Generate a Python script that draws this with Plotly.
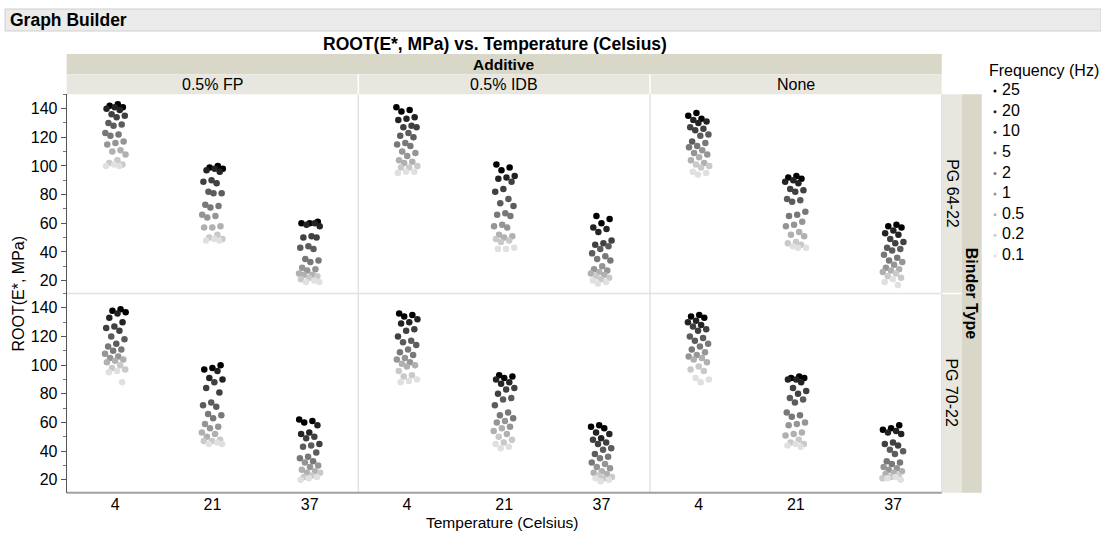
import plotly.graph_objects as go

W, H = 1101, 533
FONT = "Liberation Sans, Arial, sans-serif"

temps = ['4', '21', '37']
additives = ['0.5% FP', '0.5% IDB', 'None']
binders = ['PG 64-22', 'PG 70-22']
freq_labels = ['25', '20', '10', '5', '2', '1', '0.5', '0.2', '0.1']
freq_colors = ['#000000', '#232323', '#404040', '#5c5c5c', '#787878',
               '#959595', '#b0b0b0', '#c9c9c9', '#e0e0e0']

# values ordered by frequency (25 Hz ... 0.1 Hz), 3 replicates each
fp_6422_t4 = [143, 142, 141, 141, 140, 139, 136, 135, 134, 130, 129, 128, 123, 122, 121,
              117, 116, 115, 111, 110, 108, 104, 102, 101, 101, 100, 100]
fp_6422_t21 = [100, 99, 98, 98, 97, 96, 90, 89, 88, 82, 81, 81, 73, 72, 71,
               66, 65, 64, 58, 57, 57, 52, 50, 49, 49, 48, 48]
fp_6422_t37 = [61, 60, 60, 60, 59, 58, 51, 50, 50, 44, 43, 42, 35, 34, 33,
               29, 28, 27, 25, 24, 24, 23, 22, 21, 20, 19, 19]

idb_6422_t4 = [141, 139, 138, 134, 133, 132, 128, 127, 127, 123, 121, 120, 116, 115, 114,
               110, 109, 107, 104, 103, 102, 100, 99, 99, 96, 96, 95]
idb_6422_t21 = [101, 99, 97, 93, 92, 91, 89, 84, 82, 77, 74, 72, 67, 66, 65,
                59, 58, 57, 52, 51, 50, 49, 48, 47, 43, 42, 42]
idb_6422_t37 = [65, 63, 60, 57, 56, 54, 48, 46, 45, 44, 42, 39, 37, 35, 34,
                30, 28, 27, 26, 25, 24, 23, 22, 21, 20, 19, 18]

none_6422_t4 = [137, 135, 133, 132, 131, 130, 127, 126, 125, 122, 121, 117, 116, 114, 113,
                111, 109, 108, 106, 104, 102, 101, 100, 99, 96, 95, 94]
none_6422_t21 = [93, 92, 91, 90, 89, 88, 84, 83, 82, 77, 76, 75, 68, 66, 65,
                 61, 59, 58, 54, 52, 51, 47, 46, 45, 44, 43, 43]
none_6422_t37 = [59, 58, 57, 55, 53, 52, 49, 47, 46, 43, 42, 41, 38, 36, 34,
                 33, 31, 29, 28, 27, 26, 25, 23, 22, 21, 19, 17]

fp_7022_t4 = [139, 138, 137, 136, 133, 130, 127, 126, 124, 120, 118, 115, 113, 111, 110,
              108, 106, 105, 104, 103, 102, 100, 98, 97, 96, 95, 88]
fp_7022_t21 = [100, 98, 97, 96, 91, 90, 88, 84, 81, 74, 72, 71, 66, 65, 63,
               59, 57, 56, 53, 52, 50, 48, 47, 47, 46, 45, 45]
fp_7022_t37 = [62, 61, 60, 58, 53, 52, 50, 49, 45, 44, 43, 39, 36, 35, 33,
               32, 30, 29, 27, 26, 25, 25, 23, 22, 22, 21, 20]

idb_7022_t4 = [136, 135, 134, 132, 130, 129, 125, 124, 120, 117, 116, 114, 111, 109, 107,
               105, 104, 102, 101, 100, 99, 96, 93, 92, 90, 89, 88]
idb_7022_t21 = [93, 92, 91, 90, 88, 87, 84, 83, 80, 77, 76, 72, 67, 65, 63,
                61, 60, 57, 56, 54, 52, 50, 48, 46, 45, 43, 42]
idb_7022_t37 = [58, 57, 56, 53, 52, 49, 48, 46, 45, 42, 41, 38, 36, 35, 32,
                31, 29, 28, 26, 25, 24, 23, 22, 21, 21, 20, 19]

none_7022_t4 = [135, 134, 133, 131, 130, 128, 127, 125, 124, 120, 119, 117, 115, 113, 111,
                109, 107, 106, 105, 104, 102, 99, 97, 96, 91, 90, 88]
none_7022_t21 = [92, 91, 91, 90, 90, 88, 84, 82, 80, 77, 76, 74, 67, 65, 64,
                 60, 59, 58, 53, 52, 51, 48, 46, 45, 45, 44, 43]
none_7022_t37 = [58, 56, 55, 54, 53, 52, 46, 45, 44, 41, 40, 38, 33, 32, 31,
                 29, 28, 27, 26, 25, 24, 23, 22, 21, 22, 21, 20]

panels = [
    [[fp_6422_t4, fp_6422_t21, fp_6422_t37],
     [idb_6422_t4, idb_6422_t21, idb_6422_t37],
     [none_6422_t4, none_6422_t21, none_6422_t37]],
    [[fp_7022_t4, fp_7022_t21, fp_7022_t37],
     [idb_7022_t4, idb_7022_t21, idb_7022_t37],
     [none_7022_t4, none_7022_t21, none_7022_t37]],
]


def fx(p):
    return p / W


def fy(p):
    return 1 - p / H


XE = [66.7, 358.3, 650.0, 941.7]
YE = [94.3, 293.5, 492.7]
REPS = 3
JITTER = 0.22   # total jitter width, in category units
GOLD = 0.6180339887

fig = go.Figure()
layout = dict(
    width=W, height=H, margin=dict(l=0, r=0, t=0, b=0),
    paper_bgcolor='white', plot_bgcolor='white', showlegend=False,
    font=dict(family=FONT, size=16, color='#000'),
)

for r in range(2):
    for c in range(3):
        k = r * 3 + c + 1
        sfx = '' if k == 1 else str(k)
        xs, ys, cols, hov = [], [], [], []
        for ti, t in enumerate(temps):
            vals = panels[r][c][ti]
            for j, v in enumerate(vals):
                fi = j // REPS
                off = (((j + 1) * GOLD + 0.13 * (ti + 3 * c + r)) % 1.0 - 0.5) * JITTER
                xs.append(ti + off)
                ys.append(v)
                cols.append(freq_colors[fi])
                hov.append('%s Hz' % freq_labels[fi])
        fig.add_trace(go.Scatter(
            x=xs, y=ys, xaxis='x' + sfx, yaxis='y' + sfx, mode='markers',
            marker=dict(size=6.5, color=cols, line=dict(width=0)),
            text=hov, showlegend=False,
        ))
        layout['xaxis' + sfx] = dict(
            domain=[fx(XE[c]), fx(XE[c + 1])], anchor='y' + sfx,
            range=[-0.5, 2.5], tickmode='array', tickvals=list(range(len(temps))),
            ticktext=temps, showticklabels=(r == 1), ticks='',
            showline=False, showgrid=False, zeroline=False,
            tickfont=dict(size=16, color='#000'),
        )
        layout['yaxis' + sfx] = dict(
            domain=[fy(YE[r + 1]), fy(YE[r])], anchor='x' + sfx,
            range=[11, 150], tick0=0, dtick=20, showticklabels=(c == 0),
            ticks='outside' if c == 0 else '', ticklen=5, tickcolor='#555',
            minor=dict(dtick=10, ticks='outside' if c == 0 else '', ticklen=3, tickcolor='#777'),
            showline=(c == 0), linecolor='#555', linewidth=1,
            showgrid=False, zeroline=False, tickfont=dict(size=16, color='#000'),
        )

# legend drawn on its own small axis (x units are pixels)
fig.add_trace(go.Scatter(
    x=[0] * len(freq_labels), y=freq_labels, xaxis='x7', yaxis='y7',
    mode='markers', marker=dict(size=3, color=freq_colors),
    hoverinfo='skip', showlegend=False,
))
fig.add_trace(go.Scatter(
    x=[7] * len(freq_labels), y=freq_labels, xaxis='x7', yaxis='y7',
    mode='text', text=freq_labels, textposition='middle right',
    textfont=dict(size=16, color='#000'), hoverinfo='skip', showlegend=False,
))
layout['xaxis7'] = dict(domain=[fx(990), fx(1090)], anchor='y7', range=[-5, 95], visible=False)
layout['yaxis7'] = dict(domain=[fy(266), fy(81)], anchor='x7', type='category',
                        categoryorder='array', categoryarray=freq_labels,
                        range=[8.485, -0.485], visible=False)

shapes = []


def rect(x0, x1, y0, y1, fill, line=None, lw=0):
    shapes.append(dict(type='rect', xref='paper', yref='paper',
                       x0=fx(x0), x1=fx(x1), y0=fy(y1), y1=fy(y0),
                       fillcolor=fill, line=dict(width=lw, color=line or fill), layer='below'))


def seg(x0, y0, x1, y1, color, w=1, layer='above'):
    shapes.append(dict(type='line', xref='paper', yref='paper',
                       x0=fx(x0), x1=fx(x1), y0=fy(y0), y1=fy(y1),
                       line=dict(color=color, width=w), layer=layer))


rect(5, 1101, 9, 31, '#ebebeb', '#cfcfcf', 1)
rect(XE[0], XE[3], 54, 74.3, '#d9d7c8')
rect(XE[0], XE[3], 74.3, YE[0], '#e8e7df')
rect(XE[3], 961.7, YE[0], YE[2], '#e8e7df')
rect(961.7, 981.7, YE[0], YE[2], '#d9d7c8')
for xe in XE[1:3]:
    seg(xe, 74.3, xe, YE[0], 'white', 1.5)
seg(XE[3], YE[1], 961.7, YE[1], 'white', 1.5)
for xe in XE[1:]:
    seg(xe, YE[0], xe, YE[2], '#e2e2e2', 1.5, 'below')
seg(XE[0], YE[1], XE[3], YE[1], '#e2e2e2', 1.5, 'below')
seg(XE[0], YE[2], XE[3], YE[2], '#a0a0a0', 2)

ann = []


def text(s, x, y, size=16, bold=False, anchor='center', angle=0):
    ann.append(dict(text='<b>%s</b>' % s if bold else s, x=fx(x), y=fy(y),
                    xref='paper', yref='paper', showarrow=False, xanchor=anchor,
                    yanchor='middle', textangle=angle,
                    font=dict(family=FONT, size=size, color='#000')))


text('Graph Builder', 8, 20, 17.5, True, 'left')
text('ROOT(E*, MPa) vs. Temperature (Celsius)', 495, 44, 17.5, True)
text('Additive', (XE[0] + XE[3]) / 2, 64, 15.5, True)
for c, a in enumerate(additives):
    text(a, (XE[c] + XE[c + 1]) / 2, 84.5, 16)
for r, b in enumerate(binders):
    text(b, 951.7, (YE[r] + YE[r + 1]) / 2, 16, angle=90)
text('Binder Type', 971.7, YE[1], 16, True, angle=90)
text('ROOT(E*, MPa)', 18, YE[1], 16, angle=-90)
text('Temperature (Celsius)', 502, 522, 15.5)
text('Frequency (Hz)', 987, 71, 16, anchor='left')

layout['shapes'] = shapes
layout['annotations'] = ann
fig.update_layout(**layout)
fig.write_html('out.html')
